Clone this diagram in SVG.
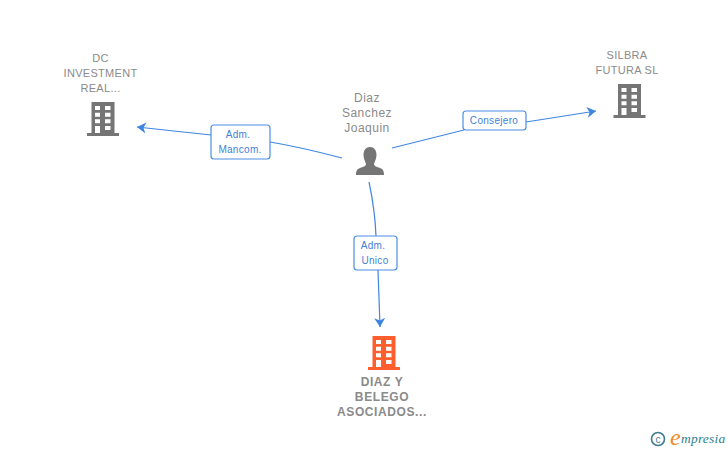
<svg xmlns="http://www.w3.org/2000/svg" width="728" height="450" viewBox="0 0 728 450">
<style>
.n{font:11px "Liberation Sans",Arial,sans-serif;fill:#8a8a8a;text-anchor:middle;letter-spacing:.3px}
.p{font-size:12px;letter-spacing:.5px}
.b{font:bold 12px "Liberation Sans",Arial,sans-serif;letter-spacing:.6px}
.l{font:10px "Liberation Sans",Arial,sans-serif;fill:#3f7fd8;text-anchor:middle;letter-spacing:.3px}
.c{fill:none;stroke:#3f86e0;stroke-width:1.2}
.r{fill:#fff;stroke:#4a8ee4;stroke-width:1.2}
.g{fill:#757575}.o{fill:#ff5f2e}.w{fill:#fff}
</style>
<defs>
<marker id="a" markerWidth="12" markerHeight="12" refX="9" refY="6" orient="auto" markerUnits="userSpaceOnUse"><path d="M0 .5L9 6L0 11.500L2.500 6Z" fill="#3f86e0"/></marker>
<g id="bld">
<path d="M4.500 0H27.500V31H32V34H0V31H4.500Z"/>
<path class="w" d="M8 4h5v4h-5zM18 4h5.500v4h-5.500zM8 10.700h5v4h-5zM18 10.700h5.500v4h-5.500zM8 17.300h5v4h-5zM18 17.300h5.500v4h-5.500zM8 24h5v7h-5zM18 24h5.500v4h-5.500z"/>
</g>
</defs>
<g id="connectors">
<path class="c" d="M342 158Q300 147 270 142"/>
<path class="c" d="M211 135L137 127" marker-end="url(#a)"/>
<path class="c" d="M392 148L464 130"/>
<path class="c" d="M526 122L596 111" marker-end="url(#a)"/>
<path class="c" d="M369 182Q375 210 376 236"/>
<path class="c" d="M378 270L380 327" marker-end="url(#a)"/>
</g>
<g id="node-dc">
<text class="n" x="100.500" y="62">DC</text><text class="n" x="100.500" y="77">INVESTMENT</text><text class="n" x="100.500" y="92">REAL...</text>
<use href="#bld" x="87" y="102" class="g"/>
</g>
<g id="node-silbra">
<text class="n" x="627" y="59">SILBRA</text><text class="n" x="627" y="74">FUTURA SL</text>
<use href="#bld" x="613.500" y="84" class="g"/>
</g>
<g id="node-person">
<text class="n p" x="367" y="102">Diaz</text><text class="n p" x="367" y="117">Sanchez</text><text class="n p" x="367" y="132">Joaquin</text>
<path class="g" d="M370 147C374 147 376.500 150 376.500 155C376.500 159 374.500 162 374 164C374 166 377 167 380 168C383 169 384 171 384 175H356C356 171 357 169 360 168C363 167 366 166 366 164C365.500 162 363.500 159 363.500 155C363.500 150 366 147 370 147Z"/>
</g>
<g id="node-diaz">
<use href="#bld" x="368" y="336" class="o"/>
<text class="n b" x="382" y="386">DIAZ Y</text><text class="n b" x="382" y="401">BELEGO</text><text class="n b" x="382" y="416">ASOCIADOS...</text>
</g>
<g id="label-mancom"><rect class="r" x="211" y="125" width="59" height="34" rx="3"/><text class="l" x="238" y="138">Adm.</text><text class="l" x="240" y="153">Mancom.</text></g>
<g id="label-consejero"><rect class="r" x="463" y="111" width="63" height="19" rx="3"/><text class="l" x="494" y="124">Consejero</text></g>
<g id="label-unico"><rect class="r" x="354" y="236" width="43" height="34" rx="3"/><text class="l" x="373" y="249">Adm.</text><text class="l" x="375" y="264">Unico</text></g>
<g id="logo">
<circle cx="658" cy="439" r="6.500" fill="none" stroke="#3d7c8f" stroke-width="1.600"/>
<text x="658" y="442.500" font-family="Liberation Sans,sans-serif" font-size="10" fill="#3d7c8f" text-anchor="middle">c</text>
<text x="670" y="445" font-family="Liberation Serif,serif" font-style="italic" font-size="24" fill="#f08a1d">e</text>
<text x="681" y="443" font-family="Liberation Serif,serif" font-style="italic" font-size="13.500" fill="#2e7f8f" letter-spacing=".2">mpresia</text>
</g>
</svg>
